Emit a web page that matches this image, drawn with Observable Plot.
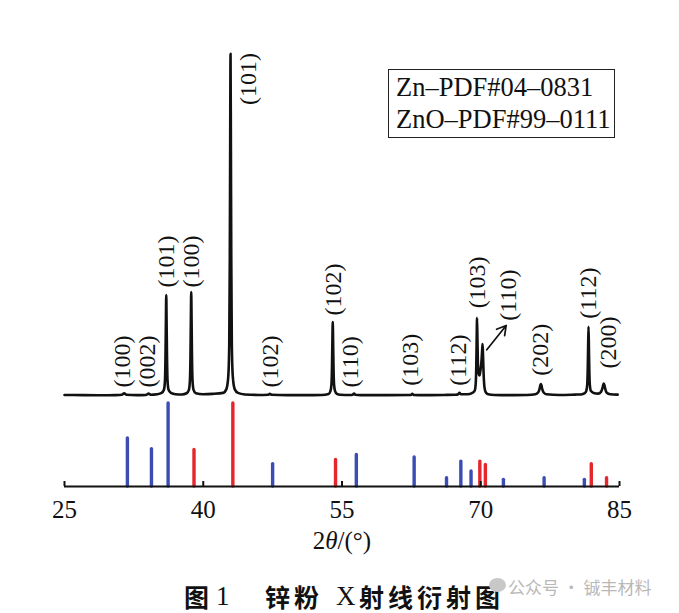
<!DOCTYPE html>
<html><head><meta charset="utf-8">
<script src="https://cdn.jsdelivr.net/npm/d3@7"></script>
<script src="https://cdn.jsdelivr.net/npm/@observablehq/plot@0.6"></script>
<style>
html,body{margin:0;padding:0;background:#fff;}
#wrap{position:relative;width:679px;height:613px;overflow:hidden;background:#fff;}
#chart svg{display:block;}
#legend{position:absolute;left:388px;top:69px;width:227px;height:69px;box-sizing:border-box;border:1.6px solid #222;
  padding:1px 0 0 7px;font-family:'Liberation Serif',serif;font-size:26.5px;line-height:32px;color:#111;white-space:nowrap;}
.cap{position:absolute;top:576px;height:40px;line-height:40px;font-size:25px;color:#111;white-space:nowrap;}
.cjk{font-family:'Noto Sans CJK SC',sans-serif;font-weight:700;}
.ser{font-family:'Liberation Serif',serif;font-weight:400;font-size:27px;}
#wm{position:absolute;left:508px;top:576px;height:22px;line-height:22px;font-family:'Noto Sans CJK SC',sans-serif;font-size:17px;color:#b8b8b8;white-space:nowrap;}
#wmicon{position:absolute;left:489px;top:578px;width:17px;height:14px;border-radius:50%;background:#c8c8c8;}
</style></head>
<body><div id="wrap"><div id="chart"></div></div>
<script>
// ---- data ----
const xTicks = [25, 40, 55, 70, 85];
// measured XRD pattern: [2θ (°), intensity (main peak = 100)]
const pattern = [
[25.0,0.3],[27.0,0.25],[29.0,0.2],[30.5,0.25],[31.2,0.35],[31.45,0.75],[31.7,0.35],[32.8,0.25],[33.8,0.3],[34.1,0.7],[34.35,0.35],
[35.0,0.5],[35.5,0.9],[35.75,1.8],[35.86,4.5],[35.92,12],[35.96,21],[36.0,29.5],[36.04,21],[36.08,12],[36.14,4.5],[36.25,1.8],[36.5,0.9],
[37.0,0.5],[37.7,0.45],[38.2,0.8],[38.45,1.8],[38.56,4.6],[38.62,12],[38.66,22],[38.7,30.4],[38.74,22],[38.78,12],[38.84,4.6],[38.95,1.8],[39.2,0.8],
[40.0,0.5],[41.0,0.6],[42.15,0.9],[42.5,2.0],[42.7,5.5],[42.81,15],[42.87,40],[42.91,72],[42.95,100],[42.99,72],[43.03,40],[43.09,15],[43.2,5.5],[43.4,2.0],[43.75,0.9],
[44.5,0.45],[46.0,0.3],[47.0,0.35],[47.2,0.6],[47.4,0.35],[49.0,0.25],[51.0,0.25],[52.8,0.3],
[53.55,0.6],[53.75,1.4],[53.86,3.4],[53.92,8.8],[53.96,15.8],[54.0,21.6],[54.04,15.8],[54.08,8.8],[54.14,3.4],[54.25,1.4],[54.45,0.6],[54.8,0.35],
[55.9,0.3],[56.15,0.35],[56.3,0.7],[56.45,0.35],[57.0,0.25],[60.0,0.25],[62.45,0.3],[62.6,0.6],[62.75,0.3],[64.0,0.25],[66.0,0.3],
[67.3,0.35],[67.55,0.5],[67.7,0.9],[67.85,0.5],[68.3,0.5],[68.8,0.6],[69.15,1.0],[69.35,1.6],[69.46,3.8],[69.52,9.3],[69.56,16.6],[69.6,22.8],
[69.64,16.8],[69.7,9],[69.78,6.5],[69.86,6],[69.94,7],[70.02,8.5],[70.1,11],[70.16,13.8],[70.2,15.2],[70.25,11.5],[70.31,6.5],[70.4,2.6],[70.55,1.0],[70.8,0.5],
[71.5,0.3],[73.0,0.25],[75.0,0.3],[75.9,0.5],[76.2,1.0],[76.35,2.0],[76.45,3.2],[76.5,3.5],[76.55,3.2],[76.65,2.0],[76.8,1.0],[77.1,0.5],
[78.5,0.3],[80.2,0.4],[80.85,0.45],[81.2,0.75],[81.4,1.4],[81.51,3.3],[81.57,8.3],[81.61,14.6],[81.65,20.2],[81.69,14.6],[81.73,8.3],[81.79,3.3],[81.9,1.5],
[82.2,0.9],[82.7,0.7],[83.0,1.2],[83.15,2.2],[83.25,3.3],[83.3,3.6],[83.35,3.3],[83.45,2.2],[83.6,1.0],[84.0,0.5],[84.8,0.4]
];
// reference stick patterns: [2θ (°), relative intensity]
const znoRef = [[31.8,58],[34.4,45],[36.2,100],[47.5,27],[56.55,38],[62.8,35],[66.3,10],[67.85,30],[68.95,18],[72.45,8],[76.85,10],[81.2,8]];
const znRef  = [[39.0,44],[43.2,100],[54.3,32],[69.9,30],[70.5,26],[81.95,27],[83.6,10]];
// peak indices: label, 2θ of label, curve level where label begins
const peakHkl   = ["(100)","(002)","(101)","(100)","(101)","(102)","(102)","(110)","(103)","(112)","(103)","(110)","(202)","(112)","(200)"];
const peakTheta = [31.3, 34.0, 36.0, 38.7, 44.85, 47.25, 54.05, 55.95, 62.4, 67.55, 69.6, 72.95, 76.4, 81.6, 83.75];
const peakBase  = [2.5, 2.5, 31.7, 31.7, 85, 2.5, 23.5, 2.5, 3.0, 3.0, 25.6, 22, 5.9, 22.6, 8.0];
// arrow from the (110) shoulder to its label: [2θ, curve level]
const arrowFrom = [70.65, 13.5];
const arrowTo   = [72.75, 20.6];
const legendLines = ["Zn–PDF#04–0831", "ZnO–PDF#99–0111"];
const xLabel = "2θ/(°)";

// ---- layout ----
const OFF = 109, K = 4.12;            // curve placed above the stick patterns
const cy = v => OFF + v * K;
const BLUE = "#3b4db3", RED = "#e5262d", INK = "#111";
const FONT = "'Liberation Serif', 'Times New Roman', serif";

const labels = peakHkl.map((t, i) => ({t, x: peakTheta[i], y: cy(peakBase[i])}));

const plot = Plot.plot({
  width: 679, height: 560,
  marginLeft: 64, marginRight: 60, marginTop: 40, marginBottom: 74,
  style: {fontFamily: FONT, fontSize: "25px", color: INK, background: "#fff"},
  x: {domain: [25, 85], ticks: xTicks, tickSize: 0, tickPadding: 14, label: null},
  y: {domain: [0, 537], axis: null},
  marks: [
    Plot.ruleX(znoRef, {x: d => d[0], y1: 0, y2: d => d[1], stroke: BLUE, strokeWidth: 3.4, strokeLinecap: "round"}),
    Plot.ruleX(znRef,  {x: d => d[0], y1: 0, y2: d => d[1], stroke: RED,  strokeWidth: 3.4, strokeLinecap: "round"}),
    Plot.ruleY([0], {stroke: INK, strokeWidth: 2}),
    Plot.ruleX(xTicks, {x: d => d, y1: 0, y2: 6, stroke: INK, strokeWidth: 2}),
    Plot.line(pattern, {x: d => d[0], y: d => cy(d[1]), stroke: INK, strokeWidth: 2.6, curve: "monotone-x"}),
    Plot.text(labels, {x: "x", y: "y", text: "t", rotate: -90, textAnchor: "start", fontSize: 24, fontFamily: FONT, fill: INK}),
    Plot.arrow([0], {x1: () => arrowFrom[0], y1: () => cy(arrowFrom[1]), x2: () => arrowTo[0], y2: () => cy(arrowTo[1]),
      stroke: INK, strokeWidth: 1.7, headLength: 10}),
    Plot.text([xLabel], {frameAnchor: "bottom", dy: 62, text: d => d, fontSize: 25, fontFamily: FONT, fill: INK})
  ]
});
plot.querySelectorAll("text").forEach(t => {
  if (t.textContent === xLabel) t.innerHTML = '2<tspan font-style="italic">θ</tspan>/(°)';
});
document.getElementById("chart").appendChild(plot);

const wrap = document.getElementById("wrap");
const lg = document.createElement("div");
lg.id = "legend";
lg.innerHTML = legendLines.map(s => `<div>${s}</div>`).join("");
wrap.appendChild(lg);

function cap(left, html, cls){
  const s = document.createElement("div");
  s.className = "cap " + cls; s.style.left = left + "px"; s.innerHTML = html; wrap.appendChild(s);
}
cap(184, "图", "cjk");
cap(216, "1", "ser");
cap(265, '<span style="letter-spacing:4px">锌粉</span>', "cjk");
cap(336, "X", "ser");
cap(359, '<span style="letter-spacing:4px">射线衍射图</span>', "cjk");
const ic = document.createElement("div"); ic.id = "wmicon"; wrap.appendChild(ic);
const wm = document.createElement("div"); wm.id = "wm"; wm.textContent = "公众号 · 铖丰材料"; wrap.appendChild(wm);
</script>
</body></html>
